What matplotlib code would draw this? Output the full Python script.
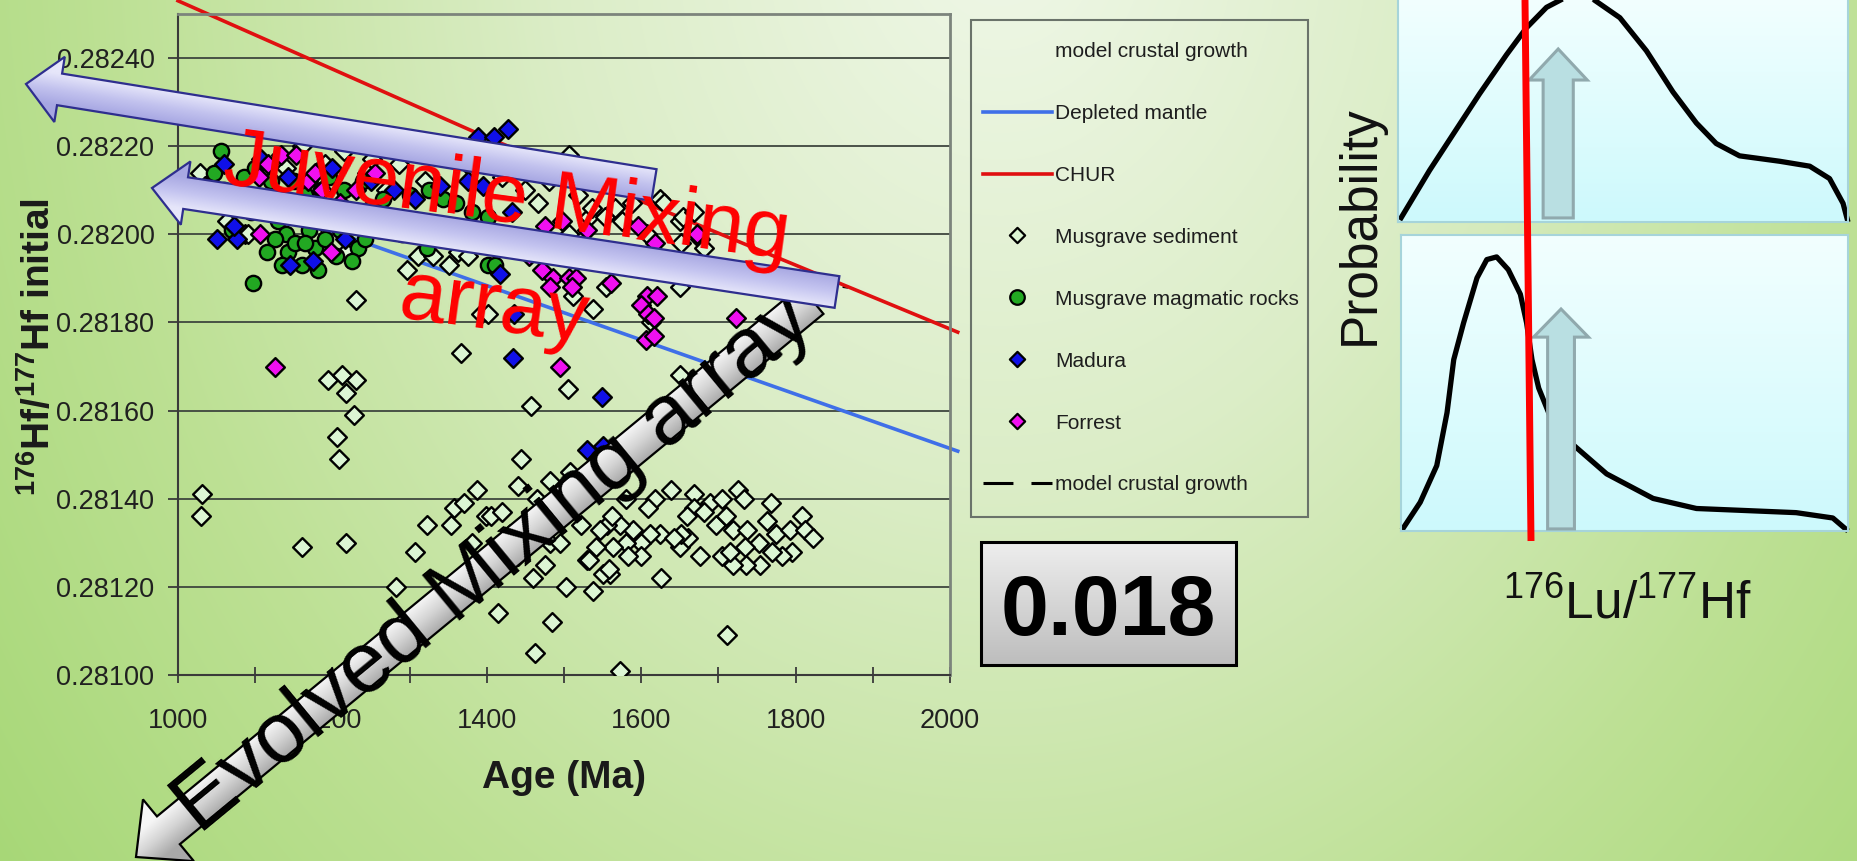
import numpy as np
import matplotlib
matplotlib.use("Agg")
import matplotlib.pyplot as plt
from matplotlib.patches import Polygon, Rectangle, FancyArrow
from matplotlib.lines import Line2D
from matplotlib.path import Path
from matplotlib.colors import LinearSegmentedColormap
from matplotlib.ticker import MultipleLocator, FormatStrFormatter

plt.rcParams['font.family'] = ['Liberation Sans', 'DejaVu Sans']
plt.rcParams['mathtext.fontset'] = 'custom'
plt.rcParams['mathtext.rm'] = 'Liberation Sans'
plt.rcParams['mathtext.bf'] = 'Liberation Sans:bold'

W, H = 1858, 861

# ---- model curves (age Ma, 176Hf/177Hf initial) ----
dm_age = [1000, 2010]
dm_hf = [0.282130, 0.281508]
chur_age = [1000, 1400, 2010]
chur_hf = [0.282530, 0.282220, 0.281778]
model_age = [1000, 1868]
model_hf = [0.282100, 0.281880]

# ---- zircon data ----
sediment = [
    (1028, 0.28214), (1035, 0.28211), (1063, 0.28203), (1087, 0.28200), (1091, 0.28200),
    (1140, 0.28215), (1160, 0.28220), (1185, 0.28203), (1190, 0.28216), (1215, 0.28219),
    (1217, 0.28196), (1230, 0.28185), (1245, 0.28214), (1251, 0.28217), (1255, 0.28205),
    (1270, 0.28210), (1286, 0.28216), (1297, 0.28192), (1311, 0.28195), (1320, 0.28212),
    (1330, 0.28195), (1340, 0.28218), (1351, 0.28193), (1363, 0.28196), (1375, 0.28195),
    (1380, 0.28215), (1392, 0.28182), (1402, 0.28182), (1420, 0.28213), (1450, 0.28210),
    (1366, 0.28173),
    (1466, 0.28207), (1480, 0.28212), (1507, 0.28218), (1518, 0.28209), (1507, 0.28200),
    (1532, 0.28204), (1536, 0.28206), (1553, 0.28204), (1560, 0.28212), (1566, 0.28206),
    (1575, 0.28203), (1588, 0.28207), (1600, 0.28212), (1607, 0.28200), (1624, 0.28208),
    (1629, 0.28207), (1650, 0.28203), (1652, 0.28198), (1654, 0.28204), (1668, 0.28205),
    (1676, 0.28199), (1681, 0.28197), (1512, 0.28186), (1537, 0.28183), (1555, 0.28188),
    (1650, 0.28188), (1613, 0.28180), (1650, 0.28168), (1505, 0.28165), (1457, 0.28161),
    (1194, 0.28167), (1212, 0.28168), (1230, 0.28167), (1217, 0.28164), (1228, 0.28159),
    (1206, 0.28154), (1209, 0.28149), (1031, 0.28141), (1030, 0.28136), (1161, 0.28129),
    (1217, 0.28130), (1283, 0.28120), (1307, 0.28128), (1322, 0.28134), (1353, 0.28134),
    (1358, 0.28138), (1371, 0.28139), (1381, 0.28130), (1387, 0.28142), (1399, 0.28136),
    (1406, 0.28136), (1415, 0.28114),
    (1444, 0.28149), (1441, 0.28143), (1482, 0.28144), (1508, 0.28146), (1639, 0.28142),
    (1580, 0.28140), (1618, 0.28140), (1609, 0.28138), (1668, 0.28141), (1689, 0.28139),
    (1705, 0.28140), (1725, 0.28142), (1733, 0.28140), (1768, 0.28139), (1668, 0.28138),
    (1659, 0.28136), (1681, 0.28137), (1697, 0.28134), (1710, 0.28136), (1719, 0.28133),
    (1737, 0.28133), (1763, 0.28135), (1775, 0.28132), (1793, 0.28133), (1808, 0.28136),
    (1812, 0.28133), (1822, 0.28131), (1795, 0.28128), (1782, 0.28127), (1769, 0.28128),
    (1752, 0.28130), (1754, 0.28125), (1736, 0.28125), (1719, 0.28125), (1705, 0.28127),
    (1715, 0.28128), (1734, 0.28129), (1676, 0.28127), (1650, 0.28129), (1661, 0.28131),
    (1652, 0.28132), (1624, 0.28132), (1642, 0.28131), (1611, 0.28132), (1600, 0.28130),
    (1590, 0.28133), (1573, 0.28134), (1556, 0.28134), (1562, 0.28136), (1580, 0.28130),
    (1600, 0.28127), (1583, 0.28127), (1564, 0.28129), (1541, 0.28129), (1546, 0.28133),
    (1530, 0.28126), (1560, 0.28123), (1551, 0.28123), (1626, 0.28122), (1475, 0.28125),
    (1503, 0.28120), (1538, 0.28119), (1485, 0.28112), (1462, 0.28105), (1572, 0.28101),
    (1711, 0.28109), (1522, 0.28134), (1482, 0.28130), (1532, 0.28126), (1558, 0.28124),
    (1420, 0.28137), (1430, 0.28132), (1450, 0.28134), (1465, 0.28140), (1495, 0.28130),
    (1510, 0.28138), (1440, 0.28127), (1460, 0.28122),
]

magmatic = [
    (1046, 0.28214), (1056, 0.28219), (1097, 0.28189), (1060, 0.28210), (1075, 0.28207),
    (1085, 0.28213), (1095, 0.28205), (1110, 0.28208), (1120, 0.28212), (1130, 0.28203),
    (1140, 0.28200), (1125, 0.28199), (1142, 0.28196), (1151, 0.28198), (1160, 0.28193),
    (1170, 0.28201), (1177, 0.28197), (1181, 0.28192), (1190, 0.28199), (1200, 0.28204),
    (1210, 0.28201), (1222, 0.28205), (1233, 0.28197), (1242, 0.28199), (1250, 0.28206),
    (1265, 0.28208), (1280, 0.28203), (1300, 0.28209), (1322, 0.28197), (1325, 0.28210),
    (1343, 0.28208), (1360, 0.28207), (1381, 0.28205), (1402, 0.28204), (1402, 0.28193),
    (1410, 0.28193), (1100, 0.28215), (1150, 0.28212), (1165, 0.28209), (1185, 0.28210),
    (1195, 0.28213), (1215, 0.28210), (1240, 0.28212), (1070, 0.28201), (1115, 0.28196),
    (1135, 0.28193), (1165, 0.28198), (1205, 0.28195), (1225, 0.28194), (1260, 0.28201),
    (1290, 0.28200), (1350, 0.28202), (1370, 0.28199), (1390, 0.28201),
]

madura = [
    (1050, 0.28199), (1077, 0.28199), (1073, 0.28202), (1145, 0.28193), (1175, 0.28194),
    (1216, 0.28199), (1108, 0.28217), (1142, 0.28213), (1307, 0.28208), (1375, 0.28212),
    (1395, 0.28211), (1389, 0.28222), (1409, 0.28222), (1427, 0.28224), (1433, 0.28205),
    (1417, 0.28191), (1435, 0.28182), (1434, 0.28172), (1530, 0.28151), (1550, 0.28152),
    (1549, 0.28163), (1060, 0.28216), (1200, 0.28215), (1250, 0.28212), (1280, 0.28210),
    (1340, 0.28211), (1120, 0.28206), (1190, 0.28205),
]

forrest = [
    (1126, 0.28170), (1106, 0.28200), (1198, 0.28196), (1105, 0.28213), (1117, 0.28216),
    (1134, 0.28218), (1153, 0.28218), (1168, 0.28212), (1186, 0.28210), (1177, 0.28214),
    (1476, 0.28202), (1497, 0.28203), (1596, 0.28202), (1618, 0.28198), (1672, 0.28200),
    (1471, 0.28192), (1486, 0.28190), (1507, 0.28190), (1516, 0.28190), (1482, 0.28188),
    (1510, 0.28188), (1561, 0.28189), (1607, 0.28186), (1620, 0.28186), (1600, 0.28184),
    (1609, 0.28182), (1616, 0.28181), (1606, 0.28176), (1616, 0.28177), (1723, 0.28181),
    (1495, 0.28170), (1210, 0.28207), (1230, 0.28210), (1150, 0.28205), (1255, 0.28214),
    (1530, 0.28201), (1455, 0.28195),
]

legend_labels = ['model crustal growth', 'Depleted mantle', 'CHUR', 'Musgrave sediment',
                 'Musgrave magmatic rocks', 'Madura', 'Forrest', 'model crustal growth']

# ---- sketch of the two Lu/Hf distributions (normalised panel units) ----
upper_x = [0.004, 0.070, 0.130, 0.181, 0.241, 0.285, 0.330, 0.374, 0.433, 0.493, 0.552,
           0.611, 0.663, 0.707, 0.759, 0.848, 0.915, 0.959, 0.989, 1.0]
upper_y = [0.009, 0.229, 0.413, 0.569, 0.743, 0.862, 0.954, 1.0, 0.991, 0.908, 0.761,
           0.578, 0.440, 0.349, 0.294, 0.270, 0.248, 0.193, 0.083, 0.0]
lower_x = [0.002, 0.043, 0.080, 0.103, 0.118, 0.140, 0.170, 0.192, 0.214, 0.240, 0.267,
           0.281, 0.293, 0.308, 0.334, 0.386, 0.460, 0.564, 0.661, 0.773, 0.884, 0.966, 1.0]
lower_y = [0.003, 0.097, 0.221, 0.400, 0.579, 0.703, 0.855, 0.917, 0.926, 0.883, 0.800,
           0.703, 0.579, 0.483, 0.386, 0.290, 0.193, 0.110, 0.076, 0.069, 0.062, 0.044, 0.0]

# ---- slide annotations, in slide pixels ----
juv_upper = dict(tail=(654, 185), tip=(26, 84), hw=16, head_hw=33, head_len=34)
juv_lower = dict(tail=(837, 292), tip=(152, 188), hw=16, head_hw=32, head_len=34)
evolved = dict(tail=(812, 300), tip=(136, 857), hw=18, head_hw=40, head_len=42)


def block_arrow(tail, tip, hw, head_hw, head_len):
    tail = np.array(tail, float)
    tip = np.array(tip, float)
    u = (tip - tail) / np.hypot(*(tip - tail))
    n = np.array([-u[1], u[0]])
    if n[1] < 0:
        n = -n
    base = tip - u * head_len
    pts = [tail - n * hw, base - n * hw, base - n * head_hw, tip,
           base + n * head_hw, base + n * hw, tail + n * hw]
    return np.array(pts), n


def gradient_poly(ax, verts, colors, origin, n, hw, z, ec, lw):
    poly = Polygon(verts, closed=True, fc='none', ec=ec, lw=lw, zorder=z + 0.01,
                   joinstyle='miter')
    ax.add_patch(poly)
    x0, y0 = verts.min(0)
    x1, y1 = verts.max(0)
    gx, gy = np.meshgrid(np.linspace(x0, x1, 300), np.linspace(y0, y1, 300))
    off = (gx - origin[0]) * n[0] + (gy - origin[1]) * n[1]
    t = np.clip((off + hw) / (2 * hw), 0, 1)
    cmap = LinearSegmentedColormap.from_list('g', colors)
    im = ax.imshow(t, extent=(x0, x1, y0, y1), origin='lower', cmap=cmap, vmin=0, vmax=1,
                   aspect='auto', interpolation='bilinear', zorder=z)
    im.set_clip_path(poly)


fig = plt.figure(figsize=(W / 100, H / 100), dpi=100)

# background gradient of the slide
bg = fig.add_axes([0, 0, 1, 1], zorder=0)
yy, xx = np.mgrid[0:H, 0:W]
r = np.hypot(xx - 1000, (yy + 80) * 0.8)
stops = [0, 450, 900, 1400]
cols = np.array([[0.94, 0.97, 0.91], [0.86, 0.93, 0.78], [0.74, 0.88, 0.58], [0.62, 0.83, 0.42]])
img = np.dstack([np.interp(r, stops, cols[:, k]) for k in range(3)])
bg.imshow(img, aspect='auto', extent=(0, W, H, 0))
bg.axis('off')

# ---- main chart ----
ax = fig.add_axes([178 / W, 1 - 675 / H, 772 / W, 661 / H], zorder=2)
ax.patch.set_alpha(0)
ax.set_xlim(1000, 2000)
ax.set_ylim(0.28100, 0.28250)
ax.yaxis.set_major_locator(MultipleLocator(0.0002))
ax.yaxis.set_major_formatter(FormatStrFormatter('%.5f'))
ax.xaxis.set_major_locator(MultipleLocator(200))
ax.xaxis.set_minor_locator(MultipleLocator(100))
ax.grid(axis='y', color='#3e463e', lw=1.3)
ax.set_axisbelow(True)
for s in ['left', 'bottom']:
    ax.spines[s].set_color('#3a3a3a')
    ax.spines[s].set_linewidth(1.5)
for s in ['top', 'right']:
    ax.spines[s].set_color('#7c847c')
    ax.spines[s].set_linewidth(2.0)
ax.tick_params(axis='y', direction='out', length=7, width=1.3, color='#3a3a3a',
               labelsize=19.5, labelcolor='#202020', pad=10)
ax.tick_params(axis='x', which='both', direction='inout', length=11, width=1.3,
               color='#3a3a3a', labelsize=19.5, labelcolor='#202020', pad=18)

ax.plot(model_age, model_hf, color='black', lw=2.2, ls=(0, (9.8, 5.9)), zorder=2)
ax.plot(dm_age, dm_hf, color='#3f6fe8', lw=2.6, zorder=2, clip_on=False)
ax.plot(chur_age, chur_hf, color='#e01010', lw=2.6, zorder=2, clip_on=False)

diamond = Path([(0, 1), (1, 0), (0, -1), (-1, 0), (0, 1)], closed=True)
sa, sh = zip(*sediment)
ax.scatter(sa, sh, marker=diamond, s=13.5 ** 2, facecolor='#dcf6d4', edgecolor='black',
           linewidth=1.7, zorder=3)
ma, mh = zip(*magmatic)
ax.scatter(ma, mh, marker='o', s=11 ** 2, facecolor='#22a822', edgecolor='black',
           linewidth=1.7, zorder=4)
da, dh = zip(*madura)
ax.scatter(da, dh, marker=diamond, s=13.5 ** 2, facecolor='#1010e8', edgecolor='black',
           linewidth=1.7, zorder=5)
fa, fh = zip(*forrest)
ax.scatter(fa, fh, marker=diamond, s=13.5 ** 2, facecolor='#f010f0', edgecolor='black',
           linewidth=1.7, zorder=6)

ax.set_xlabel('Age (Ma)', fontsize=28, fontweight='bold', color='#1a1a1a')
ax.set_ylabel(r'$^{\mathbf{176}}$Hf/$^{\mathbf{177}}$Hf initial', fontsize=28,
              fontweight='bold', color='#1a1a1a')
ax.xaxis.set_label_coords(0.5, -0.156)
ax.xaxis.label.set_va('center')
ax.yaxis.set_label_coords(-0.181, 0.496)
ax.yaxis.label.set_va('center')

# legend
handles = [
    Line2D([], [], linestyle='none'),
    Line2D([], [], color='#3f6fe8', lw=2.6),
    Line2D([], [], color='#e01010', lw=2.6),
    Line2D([], [], linestyle='none', marker=diamond, markersize=11, mfc='#dcf6d4', mec='black', mew=1.6),
    Line2D([], [], linestyle='none', marker='o', markersize=10.5, mfc='#22a822', mec='black', mew=1.6),
    Line2D([], [], linestyle='none', marker=diamond, markersize=11, mfc='#1010e8', mec='black', mew=1.6),
    Line2D([], [], linestyle='none', marker=diamond, markersize=11, mfc='#f010f0', mec='black', mew=1.6),
    Line2D([], [], color='black', lw=2.2, ls=(0, (9.8, 5.9))),
]
leg = fig.legend(handles, legend_labels, loc='upper left', bbox_to_anchor=(983 / W, 1 - 42 / H),
                 frameon=False, fontsize=15, handlelength=3.3, handletextpad=0.15,
                 labelspacing=2.06, borderpad=0, borderaxespad=0)
for t in leg.get_texts():
    t.set_color('#1e1e1e')

# ---- right hand panels ----
pu = fig.add_axes([1398 / W, 1 - 222 / H, 450 / W, 225 / H], zorder=3)
pl = fig.add_axes([1401 / W, 1 - 531 / H, 447 / W, 296 / H], zorder=3)
grad_cyan = LinearSegmentedColormap.from_list('cy', ['#cdf9fc', '#f2ffff'])
for p in (pu, pl):
    p.imshow(np.linspace(0, 1, 100).reshape(-1, 1), extent=(0, 1, 0, 1), origin='lower',
             cmap=grad_cyan, aspect='auto', zorder=0)
    p.set_xlim(0, 1)
    p.set_ylim(0, 1)
    p.set_xticks([])
    p.set_yticks([])
    for s in p.spines.values():
        s.set_color('#a6d4da')
        s.set_linewidth(1.5)
pu.plot(upper_x, upper_y, color='black', lw=3.8, solid_joinstyle='round',
        solid_capstyle='butt', clip_on=False, zorder=2)
pl.plot(lower_x, lower_y, color='black', lw=3.8, solid_joinstyle='round',
        solid_capstyle='butt', clip_on=False, zorder=2)
pu.add_patch(FancyArrow(0.356, 0.018, 0, 0.751, width=0.067, head_width=0.129,
                        head_length=0.138, length_includes_head=True,
                        fc='#b9dfe2', ec='#90a9ad', lw=2.2, zorder=3))
pl.add_patch(FancyArrow(0.358, 0.007, 0, 0.743, width=0.060, head_width=0.123,
                        head_length=0.095, length_includes_head=True,
                        fc='#b9dfe2', ec='#90a9ad', lw=2.2, zorder=3))

# ---- overlay for the slide annotations ----
ov = fig.add_axes([0, 0, 1, 1], zorder=10)
ov.patch.set_alpha(0)
ov.axis('off')

pts, n = block_arrow(**evolved)
gradient_poly(ov, pts, ['#f6f6f6', '#d4d4d4', '#a9a9a9'], evolved['tail'], n, evolved['hw'],
              1, 'black', 1.6)
ov.text(200, 835, 'Evolved Mixing array', rotation=39.5, rotation_mode='anchor',
        ha='left', va='baseline', fontsize=62, color='black', zorder=2)

pts, n = block_arrow(**juv_upper)
gradient_poly(ov, pts, ['#e6e6fa', '#c2c2ee', '#a6a6e2'], juv_upper['tail'], n,
              juv_upper['hw'], 3, '#2e2e8e', 1.6)
pts, n = block_arrow(**juv_lower)
gradient_poly(ov, pts, ['#a8a8e2', '#c4c4f0', '#e6e6fa'], juv_lower['tail'], n,
              juv_lower['hw'], 3.5, '#2e2e8e', 1.6)
ov.text(221, 183, 'Juvenile Mixing', rotation=-7.7, rotation_mode='anchor',
        ha='left', va='baseline', fontsize=60, color='#ff0000', zorder=5)
ov.text(397, 317, 'array', rotation=-7.7, rotation_mode='anchor',
        ha='left', va='baseline', fontsize=60, color='#ff0000', zorder=5)

# legend frame and the value box
ov.add_patch(Rectangle((971, 20), 337, 497, fc='none', ec='#6a736a', lw=1.5, zorder=1))
box = np.array([[981, 542], [1236, 542], [1236, 665], [981, 665]], float)
gradient_poly(ov, box, ['#eeeeee', '#bdbdbd'], (1108.5, 603.5), np.array([0, 1.0]), 61.5,
              1, 'black', 2.2)
ov.text(1108.5, 635, '0.018', ha='center', va='baseline', fontsize=62, fontweight='bold',
        color='black', zorder=2)

ov.plot([1525, 1531], [0, 541], color='#ff0000', lw=5, solid_capstyle='butt', zorder=4)
ov.text(1360, 225, 'Probability', rotation=90, ha='center', va='center', fontsize=37,
        color='#111111')
ov.text(1627, 618, r'$^{176}$Lu/$^{177}$Hf', ha='center', va='baseline', fontsize=37,
        color='#111111')

ov.set_xlim(0, W)
ov.set_ylim(H, 0)

fig.savefig('out.png', dpi=100)
